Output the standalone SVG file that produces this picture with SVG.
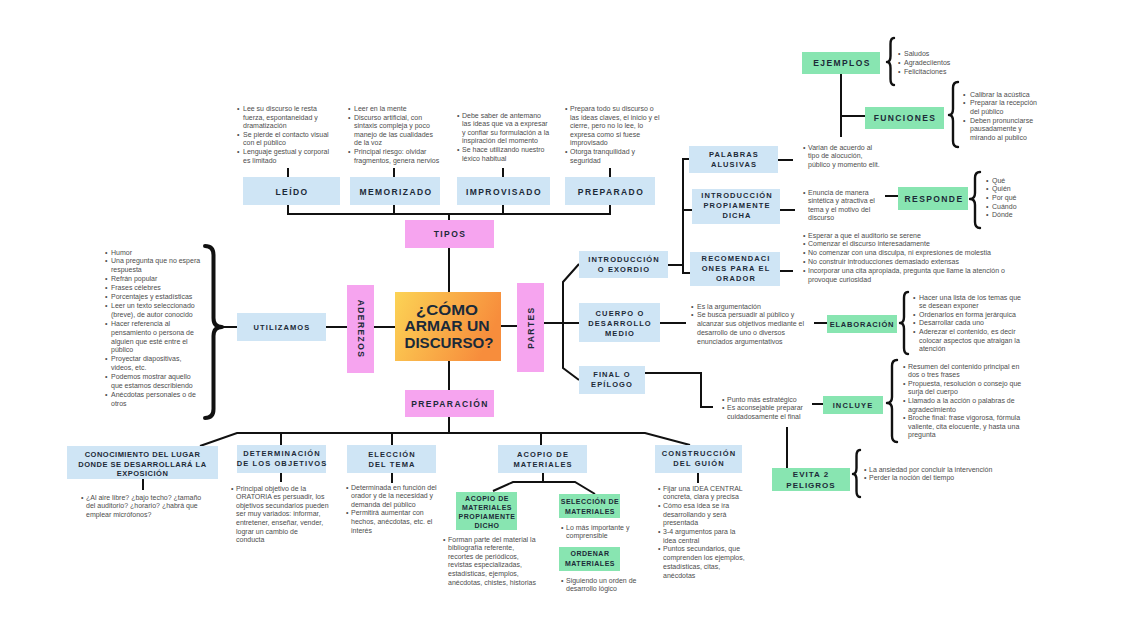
<svg xmlns="http://www.w3.org/2000/svg" width="1137" height="640" viewBox="0 0 1137 640">
<defs>
<linearGradient id="gc" x1="0" y1="0" x2="1" y2="0.3">
<stop offset="0" stop-color="#fcd355"/>
<stop offset="1" stop-color="#f78d3c"/>
</linearGradient>
</defs>
<style>
.bl{fill:#cfe5f5}
.pk{fill:#f6a4ef}
.gr{fill:#88e5b1}
.h{font-family:"Liberation Sans",Arial,sans-serif;font-weight:bold;fill:#1c2a38;text-anchor:middle}
.t1{font-size:8.5px;letter-spacing:1.4px}
.t2{font-size:7.5px;letter-spacing:1.1px}
.t3{font-size:7px;letter-spacing:0.5px}
.b{font-family:"Liberation Sans",Arial,sans-serif;font-size:7px;fill:#4d4d4d}
.ln{stroke:#111;stroke-width:2;fill:none}
.br{stroke:#111;stroke-width:2.4;fill:none;stroke-linecap:round;stroke-linejoin:round}
</style>
<rect width="1137" height="640" fill="#ffffff"/>

<g id="connectors">
<path class="ln" d="M288,168V177M394,168V177M503,168V177M610,168V177"/>
<path class="ln" d="M288,205V214M394,205V214M503,205V214M610,205V214M287,214H611"/>
<path class="ln" d="M449,214V220M449,248V292M449,361V390M449,417V433"/>
<path class="ln" d="M200,446L237,433H645L690,445"/>
<path class="ln" d="M281,433V445M392,433V445M541,433V445"/>
<path class="ln" d="M143,479V490M281,473V482M392,473V483M698,473V483"/>
<path class="ln" d="M543,473V482M493,491L513,482H575L595,494"/>
<path class="ln" d="M222,327H237M326,327H347M374,327H395M501,326H517M544,323H579"/>
<path class="ln" d="M579,264L563,282V368L579,380"/>
<path class="ln" d="M668,265H683M690,159H683V273H690M683,210H692"/>
<path class="ln" d="M778,160H793M780,210H795M780,271H793M885,196H898"/>
<path class="ln" d="M841,74V137M841,116H865"/>
<path class="ln" d="M660,323H686M814,323H827"/>
<path class="ln" d="M645,373H701V407H713M812,404H823M787,427V468"/>
<path class="br" d="M894,38Q890.5,38 890.5,44L890.5,56Q890.5,62 887,62Q890.5,62 890.5,68L890.5,79Q890.5,85 894,85"/>
<path class="br" d="M958,82Q953,82 953,88L953,109Q953,115 949,115Q953,115 953,121L953,141Q953,147 958,147"/>
<path class="br" d="M980,172Q975,172 975,178L975,193Q975,199 970,199Q975,199 975,205L975,222Q975,228 980,228"/>
<path class="br" d="M908,292Q904,292 904,298L904,317Q904,323 900,323Q904,323 904,329L904,348Q904,354 908,354"/>
<path class="br" d="M897,360Q892,360 892,366L892,397Q892,403 887,403Q892,403 892,409L892,436Q892,442 897,442"/>
<path class="br" d="M860,450Q856.5,450 856.5,456L856.5,468Q856.5,474 853,474Q856.5,474 856.5,480L856.5,491Q856.5,497 860,497"/>
<path class="br" style="stroke-width:4" d="M205,246Q213.5,246 213.5,255L213.5,318Q213.5,327 222,327Q213.5,327 213.5,336L213.5,409Q213.5,418 205,418"/>
</g>

<g id="center">
<rect x="395" y="292" width="106" height="69" fill="url(#gc)"/>
<text font-family="'Liberation Sans',Arial,sans-serif" font-weight="bold" font-size="14.5" fill="#1a2a3a" text-anchor="middle">
<tspan x="449" y="314.5" textLength="62" lengthAdjust="spacingAndGlyphs">¿CÓMO</tspan>
<tspan x="449" y="331" textLength="85" lengthAdjust="spacingAndGlyphs">ARMAR UN</tspan>
<tspan x="449" y="347.5" textLength="89" lengthAdjust="spacingAndGlyphs">DISCURSO?</tspan>
</text>
</g>

<g id="tipos"><rect class="pk" x="405" y="220" width="89" height="28"/><text class="h t1" x="450" y="237">TIPOS</text></g>
<g id="preparacion"><rect class="pk" x="405" y="390" width="89" height="27"/><text class="h t1" x="450" y="406.5">PREPARACIÓN</text></g>
<g id="aderezos"><rect class="pk" x="347" y="285" width="27" height="88"/><text class="h t1" transform="translate(357.5,329) rotate(90)" x="0" y="0">ADEREZOS</text></g>
<g id="partes"><rect class="pk" x="517" y="283" width="27" height="89"/><text class="h t1" transform="translate(533.5,327.5) rotate(-90)" x="0" y="0">PARTES</text></g>

<g id="leido"><rect class="bl" x="243" y="177" width="97" height="28"/><text class="h t1" x="292" y="194.5">LEÍDO</text>
<text class="b"><tspan x="237" y="111">•</tspan><tspan x="243" y="111">Lee su discurso le resta</tspan><tspan x="243" y="119.6">fuerza, espontaneidad y</tspan><tspan x="243" y="128.2">dramatización</tspan><tspan x="237" y="136.8">•</tspan><tspan x="243" y="136.8">Se pierde el contacto visual</tspan><tspan x="243" y="145.4">con el público</tspan><tspan x="237" y="154">•</tspan><tspan x="243" y="154">Lenguaje gestual y corporal</tspan><tspan x="243" y="162.6">es limitado</tspan></text></g>

<g id="memorizado"><rect class="bl" x="350" y="177" width="90" height="28"/><text class="h t1" x="396" y="194.5">MEMORIZADO</text>
<text class="b"><tspan x="348" y="111">•</tspan><tspan x="354" y="111">Leer en la mente</tspan><tspan x="348" y="119.6">•</tspan><tspan x="354" y="119.6">Discurso artificial, con</tspan><tspan x="354" y="128.2">sintaxis compleja y poco</tspan><tspan x="354" y="136.8">manejo de las cualidades</tspan><tspan x="354" y="145.4">de la voz</tspan><tspan x="348" y="154">•</tspan><tspan x="354" y="154">Principal riesgo: olvidar</tspan><tspan x="354" y="162.6">fragmentos, genera nervios</tspan></text></g>

<g id="improvisado"><rect class="bl" x="457" y="177" width="93" height="28"/><text class="h t1" x="504" y="194.5">IMPROVISADO</text>
<text class="b"><tspan x="457" y="117.5">•</tspan><tspan x="462" y="117.5">Debe saber de antemano</tspan><tspan x="462" y="126.1">las ideas que va a expresar</tspan><tspan x="462" y="134.7">y confiar su formulación a la</tspan><tspan x="462" y="143.3">inspiración del momento</tspan><tspan x="457" y="151.9">•</tspan><tspan x="462" y="151.9">Se hace utilizando nuestro</tspan><tspan x="462" y="160.5">léxico habitual</tspan></text></g>

<g id="preparado"><rect class="bl" x="565" y="177" width="90" height="28"/><text class="h t1" x="611" y="194.5">PREPARADO</text>
<text class="b"><tspan x="565" y="111">•</tspan><tspan x="570" y="111">Prepara todo su discurso o</tspan><tspan x="570" y="119.6">las ideas claves, el inicio y el</tspan><tspan x="570" y="128.2">cierre, pero no lo lee, lo</tspan><tspan x="570" y="136.8">expresa como si fuese</tspan><tspan x="570" y="145.4">improvisado</tspan><tspan x="565" y="154">•</tspan><tspan x="570" y="154">Otorga tranquilidad y</tspan><tspan x="570" y="162.6">seguridad</tspan></text></g>

<g id="utilizamos"><rect class="bl" x="237" y="313" width="89" height="28"/><text class="h t2" x="282" y="330">UTILIZAMOS</text>
<text class="b"><tspan x="105" y="254.5">•</tspan><tspan x="111" y="254.5">Humor</tspan><tspan x="105" y="263.4">•</tspan><tspan x="111" y="263.4">Una pregunta que no espera</tspan><tspan x="111" y="272.3">respuesta</tspan><tspan x="105" y="281.2">•</tspan><tspan x="111" y="281.2">Refrán popular</tspan><tspan x="105" y="290.1">•</tspan><tspan x="111" y="290.1">Frases célebres</tspan><tspan x="105" y="299">•</tspan><tspan x="111" y="299">Porcentajes y estadísticas</tspan><tspan x="105" y="307.9">•</tspan><tspan x="111" y="307.9">Leer un texto seleccionado</tspan><tspan x="111" y="316.8">(breve), de autor conocido</tspan><tspan x="105" y="325.7">•</tspan><tspan x="111" y="325.7">Hacer referencia al</tspan><tspan x="111" y="334.6">pensamiento o persona de</tspan><tspan x="111" y="343.5">alguien que esté entre el</tspan><tspan x="111" y="352.4">público</tspan><tspan x="105" y="361.3">•</tspan><tspan x="111" y="361.3">Proyectar diapositivas,</tspan><tspan x="111" y="370.2">videos, etc.</tspan><tspan x="105" y="379.1">•</tspan><tspan x="111" y="379.1">Podemos mostrar aquello</tspan><tspan x="111" y="388">que estamos describiendo</tspan><tspan x="105" y="396.9">•</tspan><tspan x="111" y="396.9">Anécdotas personales o de</tspan><tspan x="111" y="405.8">otros</tspan></text></g>

<g id="intro"><rect class="bl" x="579" y="251" width="89" height="27"/><text class="h t2"><tspan x="624" y="261.5">INTRODUCCIÓN</tspan><tspan x="624" y="271.5">O EXORDIO</tspan></text></g>

<g id="palabras"><rect class="bl" x="689" y="146" width="89" height="27"/><text class="h t2"><tspan x="734" y="156.5">PALABRAS</tspan><tspan x="734" y="166.5">ALUSIVAS</tspan></text>
<text class="b"><tspan x="803" y="149.5">•</tspan><tspan x="808" y="149.5">Varian de acuerdo al</tspan><tspan x="808" y="158">tipo de alocución,</tspan><tspan x="808" y="166.5">público y momento elit.</tspan></text></g>

<g id="ejemplos"><rect class="gr" x="802" y="52" width="78" height="22"/><text class="h t1" x="842" y="66">EJEMPLOS</text>
<text class="b"><tspan x="898" y="55.5">•</tspan><tspan x="904" y="55.5">Saludos</tspan><tspan x="898" y="64.5">•</tspan><tspan x="904" y="64.5">Agradeciientos</tspan><tspan x="898" y="73.5">•</tspan><tspan x="904" y="73.5">Felicitaciones</tspan></text></g>

<g id="funciones"><rect class="gr" x="865" y="107" width="79" height="22"/><text class="h t1" x="905" y="121">FUNCIONES</text>
<text class="b"><tspan x="963" y="96.5">•</tspan><tspan x="970" y="96.5">Calibrar la acústica</tspan><tspan x="963" y="105">•</tspan><tspan x="970" y="105">Preparar la recepción</tspan><tspan x="970" y="113.5">del público</tspan><tspan x="963" y="122.5">•</tspan><tspan x="970" y="122.5">Deben pronunciarse</tspan><tspan x="970" y="131">pausadamente y</tspan><tspan x="970" y="139.5">mirando al publico</tspan></text></g>

<g id="propiamente"><rect class="bl" x="692" y="189" width="88" height="35"/><text class="h t2"><tspan x="737" y="197.5">INTRODUCCIÓN</tspan><tspan x="737" y="207.5">PROPIAMENTE</tspan><tspan x="737" y="217.5">DICHA</tspan></text>
<text class="b"><tspan x="803" y="194.5">•</tspan><tspan x="808" y="194.5">Enuncia de manera</tspan><tspan x="808" y="203">sintética y atractiva el</tspan><tspan x="808" y="211.5">tema y el motivo del</tspan><tspan x="808" y="220">discurso</tspan></text></g>

<g id="responde"><rect class="gr" x="898" y="187" width="70" height="23"/><text class="h t1" x="934" y="201.5">RESPONDE</text>
<text class="b"><tspan x="986" y="182.5">•</tspan><tspan x="992" y="182.5">Qué</tspan><tspan x="986" y="191.2">•</tspan><tspan x="992" y="191.2">Quién</tspan><tspan x="986" y="199.9">•</tspan><tspan x="992" y="199.9">Por qué</tspan><tspan x="986" y="208.6">•</tspan><tspan x="992" y="208.6">Cuándo</tspan><tspan x="986" y="217.3">•</tspan><tspan x="992" y="217.3">Dónde</tspan></text></g>

<g id="recomendaciones"><rect class="bl" x="690" y="252" width="90" height="34"/><text class="h t2"><tspan x="736" y="260.5">RECOMENDACI</tspan><tspan x="736" y="270.5">ONES PARA EL</tspan><tspan x="736" y="280.5">ORADOR</tspan></text>
<text class="b"><tspan x="803" y="237.5">•</tspan><tspan x="808" y="237.5">Esperar a que el auditorio se serene</tspan><tspan x="803" y="246.3">•</tspan><tspan x="808" y="246.3">Comenzar el discurso interesadamente</tspan><tspan x="803" y="255.1">•</tspan><tspan x="808" y="255.1">No comenzar con una disculpa, ni expresiones de molestia</tspan><tspan x="803" y="263.9">•</tspan><tspan x="808" y="263.9">No construir introducciones demasiado extensas</tspan><tspan x="803" y="272.7">•</tspan><tspan x="808" y="272.7">Incorporar una cita apropiada, pregunta que llame la atención o</tspan><tspan x="808" y="281.5">provoque curiosidad</tspan></text></g>

<g id="cuerpo"><rect class="bl" x="579" y="303" width="81" height="39"/><text class="h t2"><tspan x="620" y="315.5">CUERPO O</tspan><tspan x="620" y="325.5">DESARROLLO</tspan><tspan x="620" y="335.5">MEDIO</tspan></text>
<text class="b"><tspan x="691" y="308.5">•</tspan><tspan x="697" y="308.5">Es la argumentación</tspan><tspan x="691" y="317.3">•</tspan><tspan x="697" y="317.3">Se busca persuadir al público y</tspan><tspan x="697" y="326.1">alcanzar sus objetivos mediante el</tspan><tspan x="697" y="334.9">desarrollo de uno o diversos</tspan><tspan x="697" y="343.7">enunciados argumentativos</tspan></text></g>

<g id="elaboracion"><rect class="gr" x="827" y="315" width="70" height="18"/><text class="h t2" style="letter-spacing:0.8px" x="862" y="326.5">ELABORACIÓN</text>
<text class="b"><tspan x="913" y="299.5">•</tspan><tspan x="919" y="299.5">Hacer una lista de los temas que</tspan><tspan x="919" y="308.1">se desean exponer</tspan><tspan x="913" y="316.7">•</tspan><tspan x="919" y="316.7">Ordenarlos en forma jerárquica</tspan><tspan x="913" y="325.3">•</tspan><tspan x="919" y="325.3">Desarrollar cada uno</tspan><tspan x="913" y="333.9">•</tspan><tspan x="919" y="333.9">Aderezar el contenido, es decir</tspan><tspan x="919" y="342.5">colocar aspectos que atraigan la</tspan><tspan x="919" y="351.1">atención</tspan></text></g>

<g id="final"><rect class="bl" x="579" y="366" width="66" height="28"/><text class="h t2"><tspan x="612" y="376.5">FINAL O</tspan><tspan x="612" y="386.5">EPÍLOGO</tspan></text>
<text class="b"><tspan x="722" y="401.5">•</tspan><tspan x="727" y="401.5">Punto más estratégico</tspan><tspan x="722" y="410.3">•</tspan><tspan x="727" y="410.3">Es aconsejable preparar</tspan><tspan x="727" y="419.1">cuidadosamente el final</tspan></text></g>

<g id="incluye"><rect class="gr" x="823" y="396" width="60" height="18"/><text class="h t2" x="853" y="408">INCLUYE</text>
<text class="b"><tspan x="903" y="368.5">•</tspan><tspan x="908" y="368.5">Resumen del contenido principal en</tspan><tspan x="908" y="377.1">dos o tres frases</tspan><tspan x="903" y="385.7">•</tspan><tspan x="908" y="385.7">Propuesta, resolución o consejo que</tspan><tspan x="908" y="394.3">surja del cuerpo</tspan><tspan x="903" y="402.9">•</tspan><tspan x="908" y="402.9">Llamado a la acción o palabras de</tspan><tspan x="908" y="411.5">agradecimiento</tspan><tspan x="903" y="420.1">•</tspan><tspan x="908" y="420.1">Broche final: frase vigorosa, fórmula</tspan><tspan x="908" y="428.7">valiente, cita elocuente, y hasta una</tspan><tspan x="908" y="437.3">pregunta</tspan></text></g>

<g id="evita"><rect class="gr" x="772" y="468" width="78" height="23"/><text class="h t1" style="font-size:8px;letter-spacing:1px"><tspan x="811" y="477">EVITA 2</tspan><tspan x="811" y="488">PELIGROS</tspan></text>
<text class="b"><tspan x="864" y="471.5">•</tspan><tspan x="869" y="471.5">La ansiedad por concluir la intervención</tspan><tspan x="864" y="480.3">•</tspan><tspan x="869" y="480.3">Perder la noción del tiempo</tspan></text></g>

<g id="conocimiento"><rect class="bl" x="67" y="446" width="151" height="33"/><text class="h t2" style="letter-spacing:0.5px"><tspan x="142.5" y="457">CONOCIMIENTO DEL LUGAR</tspan><tspan x="142.5" y="466.5">DONDE SE DESARROLLARÁ LA</tspan><tspan x="142.5" y="476">EXPOSICIÓN</tspan></text>
<text class="b"><tspan x="81" y="499.5">•</tspan><tspan x="86" y="499.5">¿Al aire libre? ¿bajo techo? ¿tamaño</tspan><tspan x="86" y="508.1">del auditorio? ¿horario? ¿habrá que</tspan><tspan x="86" y="516.7">emplear micrófonos?</tspan></text></g>

<g id="determinacion"><rect class="bl" x="237" y="445" width="89" height="28"/><text class="h t2"><tspan x="282" y="456">DETERMINACIÓN</tspan><tspan x="282" y="466">DE LOS OBJETIVOS</tspan></text>
<text class="b"><tspan x="231" y="490.5">•</tspan><tspan x="236" y="490.5">Principal objetivo de la</tspan><tspan x="236" y="499.1">ORATORIA es persuadir, los</tspan><tspan x="236" y="507.7">objetivos secundarios pueden</tspan><tspan x="236" y="516.3">ser muy variados: informar,</tspan><tspan x="236" y="524.9">entretener, enseñar, vender,</tspan><tspan x="236" y="533.5">lograr un cambio de</tspan><tspan x="236" y="542.1">conducta</tspan></text></g>

<g id="eleccion"><rect class="bl" x="347" y="445" width="89" height="28"/><text class="h t2"><tspan x="392" y="456.5">ELECCIÓN</tspan><tspan x="392" y="466.5">DEL TEMA</tspan></text>
<text class="b"><tspan x="346" y="489.5">•</tspan><tspan x="351" y="489.5">Determinada en función del</tspan><tspan x="351" y="498.1">orador y de la necesidad y</tspan><tspan x="351" y="506.7">demanda del público</tspan><tspan x="346" y="515.3">•</tspan><tspan x="351" y="515.3">Permitirá aumentar con</tspan><tspan x="351" y="523.9">hechos, anécdotas, etc. el</tspan><tspan x="351" y="532.5">interés</tspan></text></g>

<g id="acopio"><rect class="bl" x="498" y="445" width="89" height="28"/><text class="h t2"><tspan x="543" y="456.5">ACOPIO DE</tspan><tspan x="543" y="466.5">MATERIALES</tspan></text></g>

<g id="acopio-dicho"><rect class="gr" x="456" y="492" width="61" height="38"/><text class="h t3"><tspan x="487" y="500.5">ACOPIO DE</tspan><tspan x="487" y="509.7">MATERIALES</tspan><tspan x="487" y="518.9">PROPIAMENTE</tspan><tspan x="487" y="528">DICHO</tspan></text>
<text class="b"><tspan x="443" y="541.5">•</tspan><tspan x="448" y="541.5">Forman parte del material la</tspan><tspan x="448" y="550.1">bibliografía referente,</tspan><tspan x="448" y="558.7">recortes de periódicos,</tspan><tspan x="448" y="567.3">revistas especializadas,</tspan><tspan x="448" y="575.9">estadísticas, ejemplos,</tspan><tspan x="448" y="584.5">anécdotas, chistes, historias</tspan></text></g>

<g id="seleccion"><rect class="gr" x="559" y="494" width="61" height="24"/><text class="h t3"><tspan x="590" y="503.5">SELECCIÓN DE</tspan><tspan x="590" y="513.5">MATERIALES</tspan></text>
<text class="b"><tspan x="561" y="529.5">•</tspan><tspan x="566" y="529.5">Lo más importante y</tspan><tspan x="566" y="538.3">comprensible</tspan></text></g>

<g id="ordenar"><rect class="gr" x="559" y="547" width="61" height="24"/><text class="h t3"><tspan x="590" y="556">ORDENAR</tspan><tspan x="590" y="566">MATERIALES</tspan></text>
<text class="b"><tspan x="561" y="582.5">•</tspan><tspan x="566" y="582.5">Siguiendo un orden de</tspan><tspan x="566" y="591.3">desarrollo lógico</tspan></text></g>

<g id="construccion"><rect class="bl" x="655" y="445" width="87" height="28"/><text class="h t2"><tspan x="699" y="456">CONSTRUCCIÓN</tspan><tspan x="699" y="465.5">DEL GUIÓN</tspan></text>
<text class="b"><tspan x="658" y="490.5">•</tspan><tspan x="663" y="490.5">Fijar una IDEA CENTRAL</tspan><tspan x="663" y="499.2">concreta, clara y precisa</tspan><tspan x="658" y="507.9">•</tspan><tspan x="663" y="507.9">Cómo esa idea se ira</tspan><tspan x="663" y="516.6">desarrollando y será</tspan><tspan x="663" y="525.3">presentada</tspan><tspan x="658" y="534">•</tspan><tspan x="663" y="534">3-4 argumentos para la</tspan><tspan x="663" y="542.7">idea central</tspan><tspan x="658" y="551.4">•</tspan><tspan x="663" y="551.4">Puntos secundarios, que</tspan><tspan x="663" y="560.1">comprenden los ejemplos,</tspan><tspan x="663" y="568.8">estadísticas, citas,</tspan><tspan x="663" y="577.5">anécdotas</tspan></text></g>
</svg>
